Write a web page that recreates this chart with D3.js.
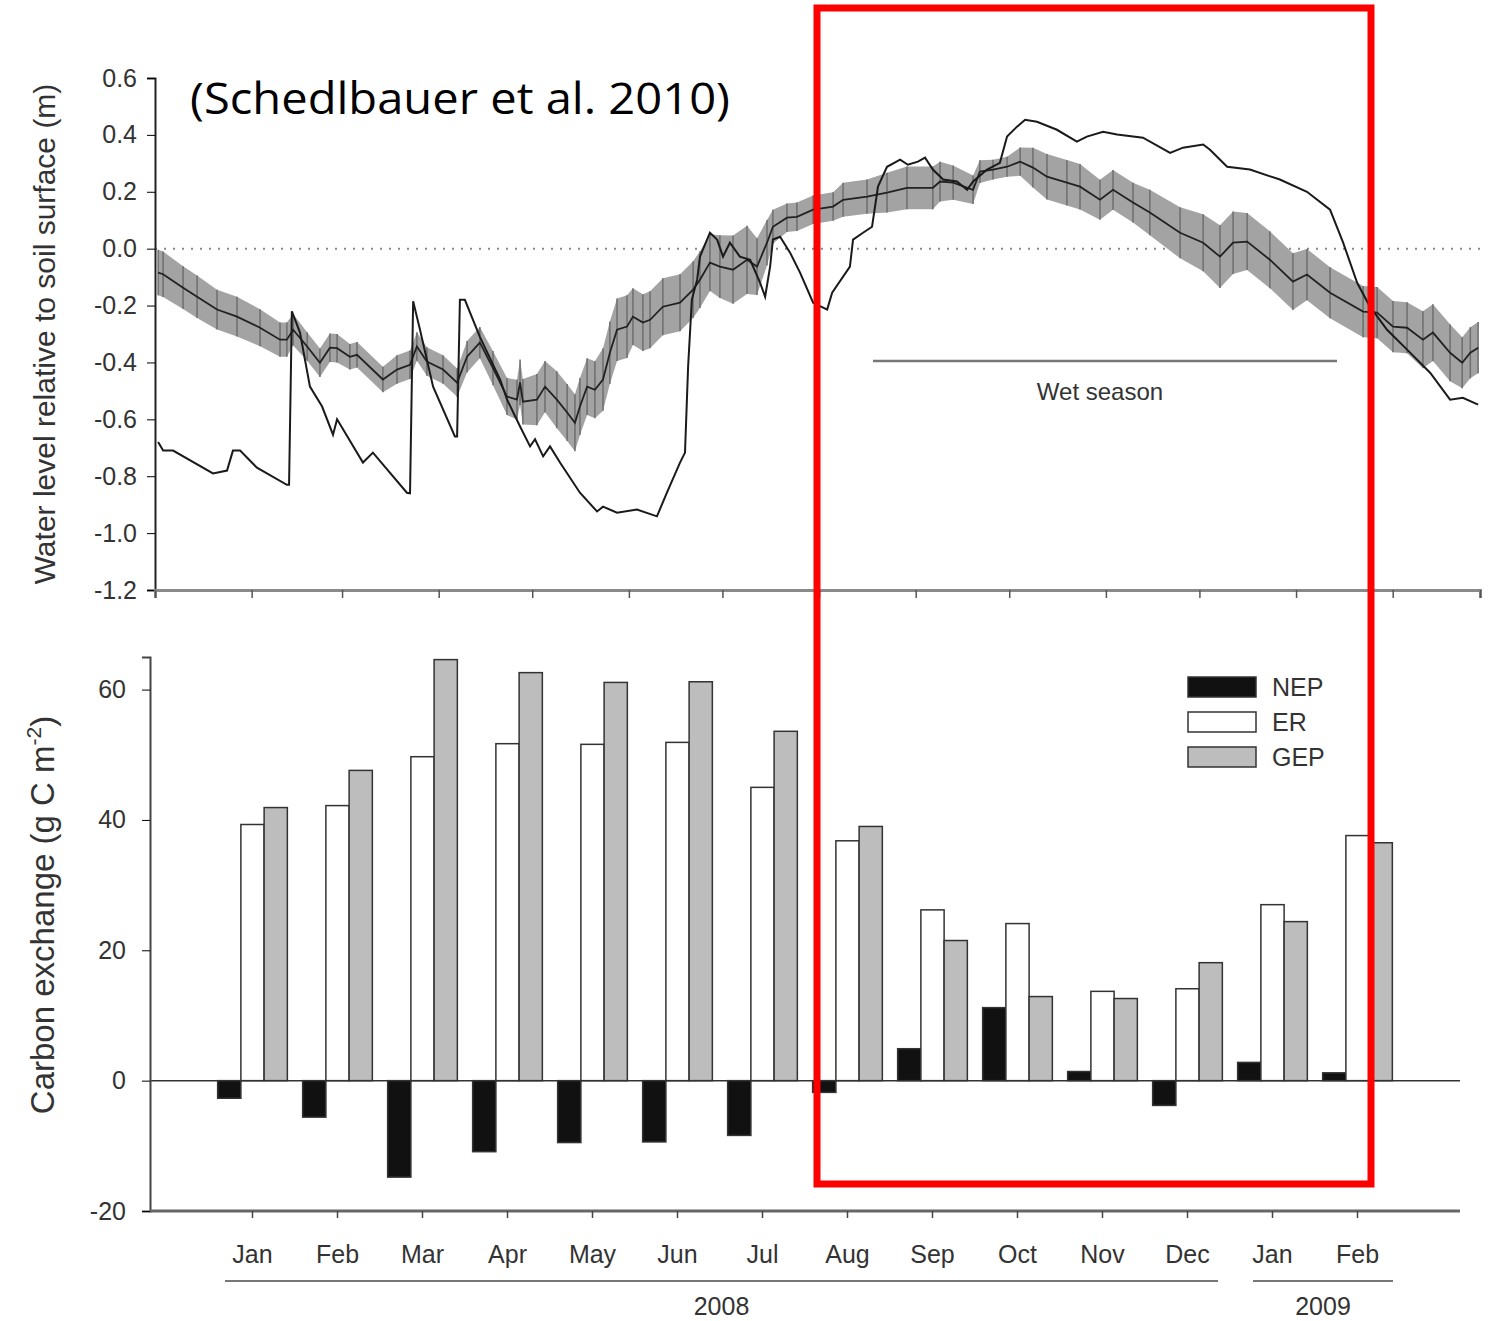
<!DOCTYPE html>
<html>
<head>
<meta charset="utf-8">
<script src="https://cdn.jsdelivr.net/npm/d3@7"></script>
<style>
  body { margin: 0; background: #fff; }
  svg { display: block; font-family: "Liberation Sans", Arial, sans-serif; }
</style>
</head>
<body>
<svg id="chart" width="1491" height="1321"></svg>
<script>
// --- top panel: water level, days since 1 Jan 2008 ---
const siteDays = [1, 2.6, 5.8, 18.6, 23.1, 25, 27.3, 32.7, 42.3, 43, 43.9, 46.5, 49.7, 53.6, 57.1, 58.4, 66.7, 69.9, 80.8, 81.8, 82.8, 85, 89.2, 96.2, 96.9, 97.8, 99.4, 104.2, 110.7, 112.9, 117.1, 120.3, 121.9, 124.5, 126.7, 129.9, 136.3, 141.8, 143.7, 148.2, 154.6, 161, 164.2, 168.4, 170, 171, 172.2, 173.9, 174.8, 178, 180.3, 182.2, 184.4, 187.6, 190.9, 194.1, 195.7, 197.3, 198.2, 200.5, 203.7, 206.9, 211.1, 215.6, 217.2, 222.9, 223.9, 227.1, 230, 231.9, 234.8, 239, 241.5, 244.7, 247, 249.5, 252.8, 257.2, 260.5, 262.4, 266.9, 271, 273.3, 276.5, 279.1, 282.9, 289.3, 295.7, 298.9, 304.1, 308.6, 316.9, 325.6, 329.7, 336.2, 338.4, 343.9, 351.2, 360.8, 369.5, 376.9, 381.1, 385.6, 389.7, 395.2, 401.6, 409, 415.4, 419.5, 424.4];
const siteLevel = [-0.68, -0.71, -0.71, -0.79, -0.78, -0.71, -0.71, -0.77, -0.83, -0.83, -0.22, -0.295, -0.485, -0.555, -0.654, -0.6, -0.752, -0.717, -0.858, -0.86, -0.185, -0.285, -0.485, -0.66, -0.66, -0.18, -0.18, -0.31, -0.46, -0.53, -0.625, -0.695, -0.67, -0.73, -0.695, -0.752, -0.858, -0.924, -0.907, -0.928, -0.917, -0.941, -0.858, -0.752, -0.717, -0.414, -0.179, -0.109, -0.028, 0.056, 0.032, -0.028, 0.021, -0.028, -0.039, -0.12, -0.169, -0.063, 0.032, 0.042, -0.014, -0.084, -0.19, -0.214, -0.155, -0.063, 0.032, 0.056, 0.077, 0.218, 0.288, 0.313, 0.295, 0.306, 0.32, 0.278, 0.243, 0.236, 0.207, 0.236, 0.278, 0.302, 0.394, 0.429, 0.453, 0.446, 0.418, 0.376, 0.394, 0.411, 0.401, 0.39, 0.337, 0.355, 0.366, 0.348, 0.288, 0.278, 0.243, 0.2, 0.137, 0.021, -0.12, -0.204, -0.285, -0.355, -0.436, -0.531, -0.524, -0.548];

const meanDays = [1, 2.6, 9, 13.5, 19.9, 26.3, 33.7, 40.1, 42.3, 44.3, 48.8, 52.9, 56.1, 58.4, 62.5, 64.8, 73.1, 77.6, 81.8, 84, 87.2, 92.4, 96.9, 100.1, 104.2, 108.4, 112.9, 116.1, 117.1, 118, 122.5, 125.1, 128.9, 132.2, 134.7, 136.3, 138.6, 141.1, 143.7, 145.9, 148.2, 151.4, 153.3, 156.5, 158.8, 162.9, 168.4, 172.6, 174.8, 178, 181.2, 185.4, 189.9, 193.1, 196.3, 198.2, 202.7, 205.9, 211.1, 217.5, 220.7, 228.4, 234.8, 241.2, 249.5, 251.8, 256, 262.4, 264.6, 268.8, 273.3, 277.5, 281.6, 286.1, 292.5, 296.7, 303.1, 307.3, 313.7, 319.1, 328.8, 336.2, 341.6, 345.8, 350.3, 357.6, 365, 369.5, 376.9, 387.5, 392, 397.1, 401.6, 406.7, 409.9, 415.4, 419.3, 421.9, 424.4];
const meanLevel = [-0.084, -0.09, -0.137, -0.169, -0.214, -0.239, -0.278, -0.32, -0.32, -0.285, -0.344, -0.401, -0.348, -0.35, -0.38, -0.373, -0.46, -0.425, -0.408, -0.344, -0.397, -0.425, -0.471, -0.38, -0.33, -0.42, -0.52, -0.531, -0.47, -0.538, -0.531, -0.485, -0.531, -0.576, -0.612, -0.555, -0.485, -0.496, -0.46, -0.366, -0.285, -0.274, -0.239, -0.26, -0.25, -0.204, -0.19, -0.144, -0.109, -0.049, -0.063, -0.074, -0.039, -0.063, 0.021, 0.077, 0.109, 0.112, 0.137, 0.148, 0.172, 0.183, 0.197, 0.214, 0.214, 0.236, 0.232, 0.207, 0.271, 0.278, 0.288, 0.306, 0.285, 0.253, 0.232, 0.218, 0.172, 0.207, 0.162, 0.127, 0.056, 0.021, -0.028, 0.021, 0.025, -0.039, -0.116, -0.091, -0.155, -0.221, -0.225, -0.274, -0.278, -0.32, -0.295, -0.366, -0.401, -0.366, -0.348];
const meanErr = [0.08, 0.08, 0.075, 0.075, 0.07, 0.07, 0.065, 0.06, 0.06, 0.055, 0.05, 0.05, 0.05, 0.05, 0.045, 0.045, 0.045, 0.05, 0.05, 0.05, 0.05, 0.05, 0.05, 0.055, 0.055, 0.06, 0.065, 0.07, 0.08, 0.08, 0.09, 0.09, 0.1, 0.1, 0.1, 0.1, 0.1, 0.1, 0.11, 0.11, 0.11, 0.11, 0.1, 0.1, 0.1, 0.1, 0.1, 0.1, 0.1, 0.1, 0.11, 0.12, 0.12, 0.1, 0.08, 0.06, 0.05, 0.05, 0.05, 0.05, 0.06, 0.06, 0.07, 0.075, 0.075, 0.07, 0.06, 0.05, 0.04, 0.035, 0.035, 0.05, 0.07, 0.08, 0.08, 0.08, 0.07, 0.07, 0.07, 0.08, 0.09, 0.1, 0.11, 0.11, 0.1, 0.1, 0.1, 0.09, 0.09, 0.09, 0.09, 0.09, 0.09, 0.1, 0.1, 0.1, 0.09, 0.09, 0.09];

const levelTicks = [0.6, 0.4, 0.2, 0.0, -0.2, -0.4, -0.6, -0.8, -1.0, -1.2];

// --- bottom panel: monthly carbon exchange ---
const monthLabels = ["Jan", "Feb", "Mar", "Apr", "May", "Jun", "Jul", "Aug", "Sep", "Oct", "Nov", "Dec", "Jan", "Feb"];
const seriesNames = ["NEP", "ER", "GEP"];
const nep = [-2.7, -5.6, -14.8, -10.9, -9.5, -9.4, -8.4, -1.8, 4.9, 11.2, 1.4, -3.8, 2.8, 1.2];
const er = [39.3, 42.2, 49.7, 51.7, 51.6, 51.9, 45.0, 36.8, 26.2, 24.1, 13.7, 14.1, 27.0, 37.6];
const gep = [41.9, 47.6, 64.6, 62.6, 61.1, 61.2, 53.6, 39.0, 21.5, 12.9, 12.6, 18.1, 24.4, 36.5];
const carbonTicks = [60, 40, 20, 0, -20];

const fills = { NEP: "#111", ER: "#fff", GEP: "#bdbdbd" };
const ink = "#333";

let svg = d3.select("#chart");

// ---------- top panel ----------
const t0 = new Date(Date.UTC(2008, 0, 1));
const toDate = d => new Date(t0.getTime() + d * 864e5);
const x = d3.scaleUtc().domain([t0, new Date(Date.UTC(2009, 2, 1))]).range([155, 1480]);
const y1 = d3.scaleLinear().domain([-1.2, 0.6]).range([590, 78]);

let meanPts = meanDays.map((d, i) => ({ date: toDate(d), v: meanLevel[i], e: meanErr[i] }));
let sitePts = siteDays.map((d, i) => ({ date: toDate(d), v: siteLevel[i] }));

// zero reference line
svg.append("line")
  .attr("x1", x.range()[0]).attr("x2", x.range()[1])
  .attr("y1", y1(0)).attr("y2", y1(0))
  .attr("stroke", "#888").attr("stroke-width", 2)
  .attr("stroke-dasharray", "2,7");

// error band
svg.append("path")
  .datum(meanPts)
  .attr("fill", "#a3a3a3")
  .attr("d", d3.area().x(d => x(d.date)).y0(d => y1(d.v - d.e)).y1(d => y1(d.v + d.e)));

svg.append("g").selectAll("line")
  .data(meanPts)
  .enter()
  .append("line")
  .attr("x1", d => x(d.date)).attr("x2", d => x(d.date))
  .attr("y1", d => y1(d.v - d.e)).attr("y2", d => y1(d.v + d.e))
  .attr("stroke", "#6e6e6e").attr("stroke-width", 1.5);

svg.append("path")
  .datum(meanPts)
  .attr("fill", "none").attr("stroke", "#222").attr("stroke-width", 1.8)
  .attr("d", d3.line().x(d => x(d.date)).y(d => y1(d.v)));

svg.append("path")
  .datum(sitePts)
  .attr("fill", "none").attr("stroke", "#1a1a1a").attr("stroke-width", 2)
  .attr("d", d3.line().x(d => x(d.date)).y(d => y1(d.v)));

// axes
let yAxis1 = svg.append("g")
  .attr("transform", "translate(155,0)")
  .call(d3.axisLeft(y1).tickValues(levelTicks).tickFormat(d => d.toFixed(1)).tickSize(8).tickPadding(10));
yAxis1.select(".domain").attr("stroke", "#222").attr("stroke-width", 2);
yAxis1.selectAll("text").attr("font-size", 25).attr("fill", ink);

let xAxis1 = svg.append("g")
  .attr("transform", "translate(0,590)")
  .call(d3.axisBottom(x).ticks(d3.utcMonth.every(1)).tickFormat("").tickSize(8));
xAxis1.select(".domain").attr("stroke", "#8a8a8a").attr("stroke-width", 3);
xAxis1.selectAll(".tick line").attr("stroke", "#555").attr("stroke-width", 1.5);

svg.append("text")
  .attr("transform", "translate(55,334) rotate(-90)")
  .attr("text-anchor", "middle")
  .attr("font-size", 30).attr("fill", ink)
  .text("Water level relative to soil surface (m)");

// wet season marker
svg.append("line")
  .attr("x1", 873).attr("x2", 1337).attr("y1", 361).attr("y2", 361)
  .attr("stroke", "#777").attr("stroke-width", 2.5);
svg.append("text")
  .attr("x", 1100).attr("y", 400)
  .attr("text-anchor", "middle").attr("font-size", 24).attr("fill", ink)
  .text("Wet season");

// citation
svg.append("text")
  .attr("x", 190).attr("y", 114)
  .attr("font-family", "'Open Sans', 'Noto Sans', sans-serif")
  .attr("font-size", 44).attr("fill", "#000")
  .attr("textLength", 540).attr("lengthAdjust", "spacingAndGlyphs")
  .text("(Schedlbauer et al. 2010)");

// ---------- bottom panel ----------
const y2 = d3.scaleLinear().domain([-20, 65]).range([1211, 657]);
const x0 = d3.scaleBand().domain(d3.range(monthLabels.length)).range([210, 1400])
  .paddingInner(0.18).paddingOuter(0.09);
const x1 = d3.scaleBand().domain(seriesNames).range([0, x0.bandwidth()]);

let rows = monthLabels.map((m, i) => ({ i: i, NEP: nep[i], ER: er[i], GEP: gep[i] }));

// zero line
svg.append("line")
  .attr("x1", 150).attr("x2", 1460).attr("y1", y2(0)).attr("y2", y2(0))
  .attr("stroke", "#333").attr("stroke-width", 1.5);

svg.append("g").selectAll("g")
  .data(rows)
  .enter()
  .append("g")
  .attr("transform", d => `translate(${x0(d.i)},0)`)
  .selectAll("rect")
  .data(d => seriesNames.map(k => ({ key: k, value: d[k] })))
  .enter()
  .append("rect")
  .attr("x", d => x1(d.key))
  .attr("width", x1.bandwidth())
  .attr("y", d => y2(Math.max(0, d.value)))
  .attr("height", d => Math.abs(y2(d.value) - y2(0)))
  .attr("fill", d => fills[d.key])
  .attr("stroke", "#333").attr("stroke-width", 1.5);

let yAxis2 = svg.append("g")
  .attr("transform", "translate(150,0)")
  .call(d3.axisLeft(y2).tickValues(carbonTicks).tickFormat(d => String(d)).tickSize(8).tickPadding(16));
yAxis2.select(".domain").attr("stroke", "#444").attr("stroke-width", 2);
yAxis2.selectAll("text").attr("font-size", 25).attr("fill", ink);

let xAxis2 = svg.append("g")
  .attr("transform", "translate(0,1211)")
  .call(d3.axisBottom(x0).tickFormat(i => monthLabels[i]).tickSize(7).tickPadding(27).tickSizeOuter(0));
xAxis2.select(".domain").attr("stroke", "#666").attr("stroke-width", 3)
  .attr("d", "M150,0H1460");
xAxis2.selectAll(".tick line").attr("stroke", "#444").attr("stroke-width", 1.5);
xAxis2.selectAll("text").attr("font-size", 25).attr("fill", ink);

svg.append("text")
  .attr("transform", "translate(54,915) rotate(-90)")
  .attr("text-anchor", "middle")
  .attr("font-size", 33).attr("fill", ink)
  .call(t => {
    t.append("tspan").text("Carbon exchange (g C m");
    t.append("tspan").attr("dy", -13).attr("font-size", 21).text("-2");
    t.append("tspan").attr("dy", 13).text(")");
  });

// year brackets
const years = [
  { label: "2008", from: 225, to: 1218 },
  { label: "2009", from: 1253, to: 1393 },
];
svg.selectAll(".yr-line")
  .data(years)
  .enter()
  .append("line")
  .attr("x1", d => d.from).attr("x2", d => d.to)
  .attr("y1", 1281).attr("y2", 1281)
  .attr("stroke", "#777").attr("stroke-width", 2);
svg.selectAll(".yr-text")
  .data(years)
  .enter()
  .append("text")
  .attr("x", d => (d.from + d.to) / 2).attr("y", 1315)
  .attr("text-anchor", "middle").attr("font-size", 25).attr("fill", ink)
  .text(d => d.label);

// legend
let legend = svg.append("g").selectAll("g")
  .data(seriesNames)
  .enter()
  .append("g")
  .attr("transform", (d, i) => `translate(1188,${677 + i * 35})`);
legend.append("rect")
  .attr("width", 68).attr("height", 20)
  .attr("fill", d => fills[d]).attr("stroke", "#333").attr("stroke-width", 1.5);
legend.append("text")
  .attr("x", 84).attr("y", 19)
  .attr("font-size", 25).attr("fill", ink)
  .text(d => d);

// highlight box
svg.append("rect")
  .attr("x", 817).attr("y", 8).attr("width", 554).attr("height", 1176)
  .attr("fill", "none").attr("stroke", "#ff0000").attr("stroke-width", 7);
</script>
</body>
</html>
